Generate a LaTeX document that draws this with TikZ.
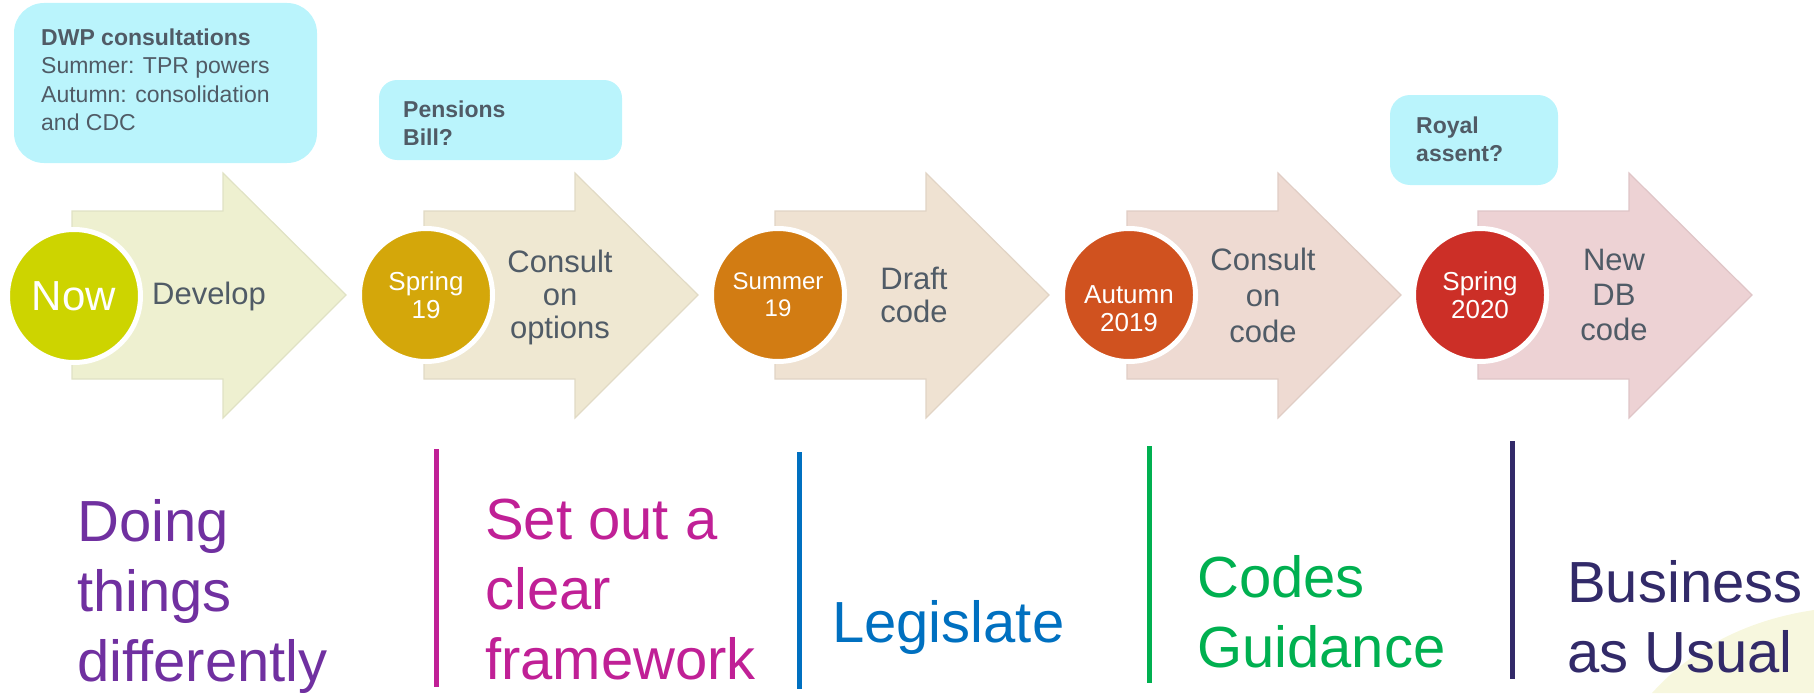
\documentclass[tikz,border=0pt]{standalone}
\usepackage{fontspec}
\setmainfont{Liberation Sans}
\usetikzlibrary{calc}
\definecolor{mycyan}{RGB}{186, 244, 252}
\definecolor{mytext}{RGB}{80, 91, 102}
\definecolor{arrowA}{RGB}{238, 240, 208}
\definecolor{arrowB}{RGB}{239, 232, 210}
\definecolor{arrowC}{RGB}{239, 226, 210}
\definecolor{arrowD}{RGB}{238, 218, 210}
\definecolor{arrowE}{RGB}{237, 210, 212}
\definecolor{dotA}{RGB}{205, 212, 0}
\definecolor{dotB}{RGB}{212, 167, 10}
\definecolor{dotC}{RGB}{210, 124, 19}
\definecolor{dotD}{RGB}{208, 82, 31}
\definecolor{dotE}{RGB}{204, 47, 39}
\definecolor{mypurple}{RGB}{112, 48, 160}
\definecolor{mymagenta}{RGB}{192, 32, 150}
\definecolor{myblue}{RGB}{0, 112, 192}
\definecolor{mygreen}{RGB}{0, 176, 80}
\definecolor{mynavy}{RGB}{50, 42, 105}
\definecolor{myswoosh}{RGB}{247, 247, 222}
\tikzset{
  note/.style={fill=mycyan, rounded corners=#1},
  notetext/.style={anchor=north west, inner sep=0pt, align=left, text=mytext, font=\fontsize{23}{28.5}\selectfont},
  dot/.style={circle, fill=#1, draw=white, line width=5pt, minimum size=133pt, inner sep=0pt, text=white, align=center, font=\fontsize{26}{28}\selectfont},
  steptext/.style={inner sep=0pt, align=center, text=mytext, font=\fontsize{31}{33}\selectfont},
  phase/.style={anchor=north west, inner sep=0pt, align=left, text=#1, font=\fontsize{58}{70}\selectfont},
  divider/.style={draw=#1, line width=5pt}
}

\begin{document}
\begin{tikzpicture}[x=1pt, y=-1pt]
\useasboundingbox (0,0) rectangle (1814,693);
\fill[myswoosh] (1652,693) .. controls (1700,640) and (1760,618) .. (1814,610) -- (1814,693) -- cycle;
% notes above the arrows
\fill[note=30pt] (14,3) rectangle (317,163);
\fill[note=18pt] (379,80) rectangle (622,160);
\fill[note=20pt] (1390,95) rectangle (1558,185);
\node[notetext] (dwp) at (41,28.5) {\textbf{DWP consultations}\\Summer: TPR powers\\Autumn: consolidation\\and CDC};
\node[notetext] (bill) at (403,100.5) {\textbf{Pensions}\\\textbf{Bill?}};
\node[notetext] (assent) at (1416,116.5) {\textbf{Royal}\\\textbf{assent?}};
% arrows
\foreach \x/\c in {72/arrowA, 424/arrowB, 775/arrowC, 1127/arrowD, 1478/arrowE}
  \draw[fill=\c, draw=\c!94!black, line width=1.2pt, line join=miter]
    (\x,211) -- (\x+151,211) -- (\x+151,173) -- (\x+274,295) -- (\x+151,418) -- (\x+151,379) -- (\x,379) -- cycle;
% dates
\node[dot=dotA, font=\fontsize{42}{44}\selectfont] (now) at (74,296) {Now};
\node[dot=dotB] (spring19) at (426,295) {Spring\\19};
\node[dot=dotC, font=\fontsize{24}{27}\selectfont] (summer19) at (778,295) {Summer\\19};
\node[dot=dotD] (autumn19) at (1129,295) {};
\node[text=white, align=center, inner sep=0pt, font=\fontsize{26}{28}\selectfont] (autumntext) at (1129,309) {Autumn\\2019};
\node[dot=dotE] (spring20) at (1480,295) {Spring\\2020};
\node[steptext] (develop) at (209,296) {Develop};
\node[steptext] (options) at (560,297) {Consult\\on\\options};
\node[steptext] (draft) at (914,295) {Draft\\code};
\node[steptext, font=\fontsize{31}{36}\selectfont] (consult) at (1263,295) {Consult\\on\\code};
\node[steptext, font=\fontsize{31}{35}\selectfont] (newcode) at (1614,295) {New\\DB\\code};
% phases
\draw[divider=mymagenta] (436,449) -- (436,687);
\draw[divider=myblue] (799,452) -- (799,689);
\draw[divider=mygreen] (1149,446) -- (1149,683);
\draw[divider=mynavy] (1512,441) -- (1512,679);
\node[phase=mypurple] (doing) at (77,499) {Doing\\things\\differently};
\node[phase=mymagenta] (frame) at (485,499) {Set out a\\clear\\framework};
\node[phase=myblue] (legislate) at (832,600) {Legislate};
\node[phase=mygreen] (codes) at (1197,555) {Codes\\Guidance};
\node[phase=mynavy] (business) at (1567,560) {Business\\as Usual};
\end{tikzpicture}
\end{document}
